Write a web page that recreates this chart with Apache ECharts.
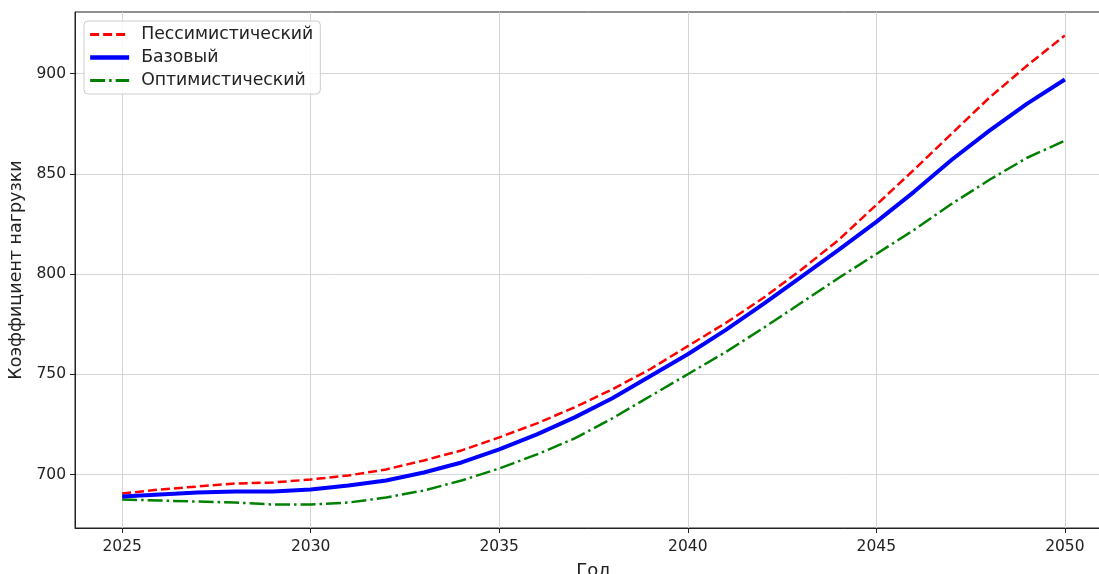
<!DOCTYPE html>
<html>
<head>
<meta charset="utf-8">
<script src="https://cdn.jsdelivr.net/npm/echarts@6/dist/echarts.min.js"></script>
<style>html,body{margin:0;padding:0;background:#fff}#c{width:1099px;height:574px}</style>
</head>
<body>
<div id="c"></div>
<script>
const years = [2025,2026,2027,2028,2029,2030,2031,2032,2033,2034,2035,2036,2037,2038,2039,2040,2041,2042,2043,2044,2045,2046,2047,2048,2049,2050];
const pessimistic = [690.5,692.5,694,695.5,696,697.5,699.5,702.5,707,712,718.5,725.5,733.5,742.5,752.5,764,775.5,788,802,817,834.5,852,870,888,904,919];
const base = [689,690,691,691.5,691.5,692.5,694.5,697,701,706,712.5,720,728.5,738,749,760,772,785,798.5,812,826,841,857,871.5,885,897];
const optimistic = [687.5,687,686.5,686,685,685,686,688.5,692,697,703,710,718,728,739,750,761,773,785.5,798,810,822,835,847,858,866.5];
const xTicks = [2025,2030,2035,2040,2045,2050];
const yTicks = [700,750,800,850,900];
const seriesNames = ['Пессимистический','Базовый','Оптимистический'];

const pair = arr => years.map((y,i)=>[y,arr[i]]);
const font = 'DejaVu Sans';
const styles = [
  {color:'#ff0000',width:2.5,type:[9,4]},
  {color:'#0000ff',width:4,type:'solid'},
  {color:'#008000',width:2.5,type:[15,4,2.5,4]}
];
const chart = echarts.init(document.getElementById('c'), null, {renderer:'canvas'});
chart.setOption({
  animation:false,
  backgroundColor:'#fff',
  textStyle:{fontFamily:font},
  grid:{left:75,top:12,right:-13,bottom:46,show:true,borderColor:'#222',borderWidth:1,containLabel:false,outerBoundsMode:'none'},
  legend:{
    orient:'vertical',left:84,top:21,
    backgroundColor:'rgba(255,255,255,0.85)',borderColor:'#ccc',borderWidth:1,borderRadius:4,
    padding:[5,7,5,4],itemWidth:39,itemHeight:12,itemGap:6,
    itemStyle:{opacity:0},
    textStyle:{fontFamily:font,fontSize:17.3,color:'#222',padding:[0,0,0,7]},
    data:seriesNames.map((n,i)=>({name:n,lineStyle:Object.assign({},styles[i],{width:styles[i].width+0.3})}))
  },
  xAxis:{
    type:'value',min:2023.75,max:2051.25,
    name:'Год',nameLocation:'middle',nameGap:34,
    nameTextStyle:{fontFamily:font,fontSize:18,color:'#222'},
    axisLine:{show:true,onZero:false,lineStyle:{color:'#222',width:1}},
    axisTick:{show:true,length:5,lineStyle:{color:'#222'},customValues:xTicks},
    axisLabel:{fontFamily:font,fontSize:15.5,color:'#222',margin:11,customValues:xTicks,formatter:v=>String(v)},
    splitLine:{show:true,lineStyle:{color:'#d4d4d4',width:1}}
  },
  yAxis:{
    type:'value',min:673.3,max:930.7,
    name:'Коэффициент нагрузки',nameLocation:'middle',nameGap:50,nameRotate:90,
    nameTextStyle:{fontFamily:font,fontSize:17.5,color:'#222'},
    axisLine:{show:true,onZero:false,lineStyle:{color:'#222',width:1}},
    axisTick:{show:true,length:5,lineStyle:{color:'#222'},customValues:yTicks},
    axisLabel:{fontFamily:font,fontSize:15.5,color:'#222',margin:9,customValues:yTicks,formatter:v=>String(v)},
    splitLine:{show:true,lineStyle:{color:'#d4d4d4',width:1}}
  },
  series:seriesNames.map((n,i)=>({
    name:n,type:'line',
    data:pair([pessimistic,base,optimistic][i]),
    showSymbol:false,symbol:'none',
    lineStyle:styles[i],itemStyle:{color:styles[i].color},
    z:[3,4,2][i]
  }))
});
</script>
</body>
</html>
